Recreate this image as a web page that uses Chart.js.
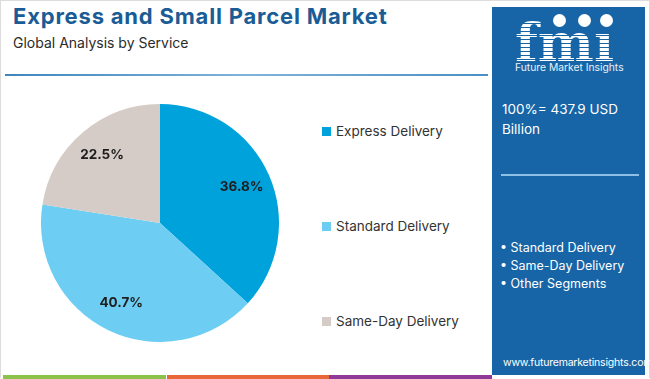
<!DOCTYPE html>
<html>
<head>
<meta charset="utf-8">
<script src="https://cdn.jsdelivr.net/npm/chart.js@4.4.1/dist/chart.umd.min.js"></script>
<style>
  html, body { margin:0; padding:0; width:650px; height:379px; overflow:hidden; background:#fff; font-family: Inter, "Open Sans", sans-serif; }
  #frame { position:absolute; left:0; top:0; width:648px; height:377px; border:1px solid #dcdcdc; border-bottom:none; }
  #title { position:absolute; left:13px; top:3px; font-size:22px; font-weight:700; color:#1a5c95; white-space:nowrap; letter-spacing:0.8px; }
  #subtitle { position:absolute; left:13px; top:34px; font-size:14px; color:#2b2b2b; white-space:nowrap; }
  #rule { position:absolute; left:5px; top:74px; width:483px; height:2px; background:linear-gradient(90deg,#3f86bd,#7fb3da 50%,#4b8fc4); }
  #chartWrap { position:absolute; left:41px; top:104px; width:238px; height:238px; }
  #legend { position:absolute; left:0; top:0; }
  .lg { position:absolute; left:322px; white-space:nowrap; font-size:13.5px; color:#333; }
  .lg span.sw { display:inline-block; width:9px; height:9px; margin-right:5px; vertical-align:0px; }
  #panel { position:absolute; left:492px; top:7px; width:153px; height:368px; background:#1765a6; color:#fff; }
  #fmi { position:absolute; left:23px; top:9px; font-family:"DejaVu Serif", serif; font-weight:700; font-size:53px; line-height:52px; letter-spacing:0px;
         background:repeating-linear-gradient(180deg,#ffffff 0px,#ffffff 3px,#1765a6 3px,#1765a6 4px); -webkit-background-clip:text; background-clip:text; color:transparent; }
  .dot { position:absolute; width:13px; height:13px; border-radius:50%; background:#fff; }
  #fmiSub { position:absolute; left:23px; top:54px; font-size:10.3px; color:#e8f1fa; white-space:nowrap; }
  #total { position:absolute; left:10px; top:93px; font-size:13.5px; line-height:19.5px; color:#fff; }
  #divider { position:absolute; left:9px; top:167px; width:138px; height:2px; background:#8ec0e6; }
  #bullets { position:absolute; left:8px; top:232px; font-size:12.5px; line-height:17.8px; color:#fff; white-space:nowrap; }
  #url { position:absolute; left:11px; top:349px; font-size:10.5px; color:#fff; white-space:nowrap; letter-spacing:-0.2px; }
  #strip { position:absolute; left:3px; top:375px; height:4px; width:489px; }
  #strip div { position:absolute; top:0; height:4px; }
</style>
</head>
<body>
<div id="frame"></div>
<div id="title">Express and Small Parcel Market</div>
<div id="subtitle">Global Analysis by Service</div>
<div id="rule"></div>
<div id="chartWrap"><canvas id="c" width="238" height="238"></canvas></div>
<div id="legend"></div>
<div id="panel">
  <div id="fmi">fmı</div>
  <div class="dot" style="left:61px;top:7px;"></div>
  <div class="dot" style="left:86px;top:7px;"></div>
  <div class="dot" style="left:108px;top:7px;"></div>
  <div id="fmiSub">Future Market Insights</div>
  <div id="total">100%= 437.9 USD<br>Billion</div>
  <div id="divider"></div>
  <div id="bullets">• Standard Delivery<br>• Same-Day Delivery<br>• Other Segments</div>
  <div id="url">www.futuremarketinsights.com</div>
</div>
<div id="strip">
  <div style="left:0;width:163px;background:#8bc34a;"></div>
  <div style="left:164px;width:162px;background:#e8683a;"></div>
  <div style="left:326px;width:163px;background:#8e3a96;"></div>
</div>
<script>
const categories = ["Express Delivery", "Standard Delivery", "Same-Day Delivery"];
const shares = [36.8, 40.7, 22.5];
const colors = ["#00a2dc", "#6dcdf3", "#d5ccc7"];
const legendY = [131.5, 226.5, 321.5];

// HTML legend built from the arrays
const lg = document.getElementById('legend');
categories.forEach((name, i) => {
  const d = document.createElement('div');
  d.className = 'lg';
  d.style.top = (legendY[i] - 9) + 'px';
  d.innerHTML = '<span class="sw" style="background:' + colors[i] + '"></span>' + name;
  lg.appendChild(d);
});

const sliceLabels = {
  id: 'sliceLabels',
  afterDatasetsDraw(chart) {
    const ctx = chart.ctx;
    const meta = chart.getDatasetMeta(0);
    ctx.save();
    ctx.font = 'bold 13.5px Inter, "Open Sans", sans-serif';
    ctx.fillStyle = '#1e1e1e';
    ctx.textAlign = 'center';
    ctx.textBaseline = 'middle';
    meta.data.forEach((arc, i) => {
      const mid = (arc.startAngle + arc.endAngle) / 2;
      const r = arc.outerRadius * 0.75;
      ctx.fillText(shares[i].toFixed(1) + '%', arc.x + Math.cos(mid) * r, arc.y + Math.sin(mid) * r);
    });
    ctx.restore();
  }
};

new Chart(document.getElementById('c'), {
  type: 'pie',
  data: {
    labels: categories,
    datasets: [{ data: shares, backgroundColor: colors, borderWidth: 0 }]
  },
  options: {
    responsive: false,
    animation: false,
    layout: { padding: 0 },
    plugins: { legend: { display: false }, tooltip: { enabled: false } }
  },
  plugins: [sliceLabels]
});
</script>
</body>
</html>
